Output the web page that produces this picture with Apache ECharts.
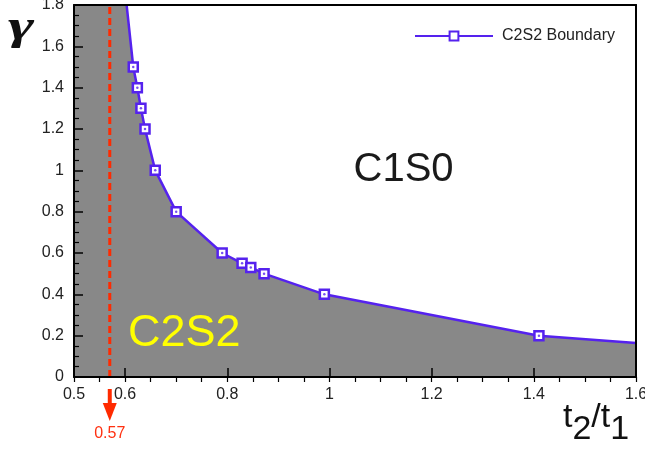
<!DOCTYPE html>
<html>
<head>
<meta charset="utf-8">
<script src="https://cdn.jsdelivr.net/npm/echarts@6/dist/echarts.min.js"></script>
<style>
  html, body { margin: 0; padding: 0; background: #fff; }
  #chart { width: 645px; height: 450px; }
</style>
</head>
<body>
<div id="chart"></div>
<script>
// ---- data ----
const boundaryX = [0.616, 0.624, 0.631, 0.639, 0.659, 0.700, 0.790, 0.829, 0.846, 0.872, 0.990, 1.410];
const boundaryY = [1.50, 1.40, 1.30, 1.20, 1.00, 0.80, 0.60, 0.55, 0.53, 0.50, 0.40, 0.20];
const lineStart = [0.603, 1.8];
const lineEnd = [1.6, 0.165];
const criticalX = 0.57;
const xLabelValues = [0.5, 0.6, 0.8, 1, 1.2, 1.4, 1.6];
const xMajorTicks = [0.6, 0.8, 1, 1.2, 1.4, 1.6];
const regionLabels = [
  { text: 'C1S0', x: 1.145, y: 1.0 },
  { text: 'C2S2', x: 0.716, y: 0.21 }
];

const PURPLE = '#5522ee';
const RED = '#ff2a00';

const markerPts = boundaryX.map((x, i) => [x, boundaryY[i]]);
const lineData = [
  { value: lineStart, symbol: 'none' },
  ...markerPts,
  { value: lineEnd, symbol: 'none' }
];
const areaData = [[0.5, 1.8], lineStart, ...markerPts, lineEnd];

const chart = echarts.init(document.getElementById('chart'));

const axisLineStyle = { color: '#000', width: 2 };

chart.setOption({
  animation: false,
  backgroundColor: '#fff',
  grid: { left: 74, right: 9, top: 5, bottom: 73, outerBoundsMode: 'none', containLabel: false },
  legend: {
    data: ['C2S2 Boundary'],
    left: 409, top: 23,
    itemWidth: 78, itemHeight: 11,
    textStyle: { fontSize: 16, color: '#222', fontFamily: 'Liberation Sans', padding: [0, 0, 0, 4] }
  },
  xAxis: [
    {
      type: 'value', min: 0.5, max: 1.6, interval: 0.1, z: 10,
      axisLine: { show: true, onZero: false, lineStyle: axisLineStyle },
      axisTick: { show: true, inside: true, length: 9, customValues: xMajorTicks, lineStyle: { color: '#000', width: 1.5 } },
      axisLabel: { customValues: xLabelValues, fontSize: 16, color: '#222', margin: 10, fontFamily: 'Liberation Sans' },
      splitLine: { show: false }
    },
    {
      type: 'value', min: 0.5, max: 1.6, interval: 0.05, z: 10,
      axisLine: { show: false },
      axisTick: { show: true, inside: true, length: 5, lineStyle: { color: '#000', width: 1.2 } },
      axisLabel: { show: false },
      splitLine: { show: false }
    },
    {
      type: 'value', position: 'top', min: 0.5, max: 1.6, z: 10,
      axisLine: { show: true, onZero: false, lineStyle: axisLineStyle },
      axisTick: { show: false }, axisLabel: { show: false }, splitLine: { show: false }
    }
  ],
  yAxis: [
    {
      type: 'value', min: 0, max: 1.8, interval: 0.2, z: 10,
      axisLine: { show: true, onZero: false, lineStyle: axisLineStyle },
      axisTick: { show: true, inside: true, length: 9, lineStyle: { color: '#000', width: 1.5 } },
      minorTick: { show: true, splitNumber: 4, length: 5, lineStyle: { color: '#000', width: 1.2 } },
      axisLabel: { fontSize: 16, color: '#222', margin: 10, fontFamily: 'Liberation Sans' },
      splitLine: { show: false }
    },
    {
      type: 'value', position: 'right', min: 0, max: 1.8, z: 10,
      axisLine: { show: true, onZero: false, lineStyle: axisLineStyle },
      axisTick: { show: false }, axisLabel: { show: false }, splitLine: { show: false }
    }
  ],
  series: [
    {
      name: 'region', type: 'line', data: areaData, z: 1,
      symbol: 'none', silent: true,
      lineStyle: { width: 0 },
      areaStyle: { color: '#888888', opacity: 1 }
    },
    {
      name: 'critical', type: 'line', z: 3, symbol: 'none',
      data: [[criticalX, 0], [criticalX, 1.8]],
      lineStyle: { color: RED, width: 3, type: [7, 4] }
    },
    {
      name: 'C2S2 Boundary', type: 'line', data: lineData, z: 4,
      symbol: 'rect', symbolSize: 9,
      lineStyle: { color: PURPLE, width: 2.5 },
      itemStyle: { color: '#fff', borderColor: PURPLE, borderWidth: 2.5 }
    },
    {
      name: 'dots', type: 'scatter', data: markerPts, z: 5,
      symbol: 'circle', symbolSize: 2.5, silent: true,
      itemStyle: { color: PURPLE }
    }
  ]
});

const px = (x, y) => chart.convertToPixel({ xAxisIndex: 0, yAxisIndex: 0 }, [x, y]);
const axisBottom = px(0.5, 0)[1];
const cx = px(criticalX, 0)[0];

const graphics = [];
regionLabels.forEach((r, i) => {
  const p = px(r.x, r.y);
  graphics.push({
    type: 'text', x: p[0], y: p[1], z: 20,
    style: {
      text: r.text, align: 'center', verticalAlign: 'middle',
      fontSize: i === 0 ? 40 : 45, fontFamily: 'Liberation Sans',
      fill: i === 0 ? '#1a1a1a' : '#ffff00'
    }
  });
});
// arrow at critical value
graphics.push({
  type: 'rect', z: 20,
  shape: { x: cx - 2, y: axisBottom + 12, width: 4, height: 16 },
  style: { fill: RED }
});
graphics.push({
  type: 'polygon', z: 20,
  shape: { points: [[cx - 7, axisBottom + 26], [cx + 7, axisBottom + 26], [cx, axisBottom + 44]] },
  style: { fill: RED }
});
graphics.push({
  type: 'text', x: cx, y: axisBottom + 57, z: 20,
  style: { text: String(criticalX), align: 'center', verticalAlign: 'middle', fontSize: 16, fontFamily: 'Liberation Sans', fill: '#ff3010' }
});
// axis titles
graphics.push({
  type: 'text', x: 21, y: 28, z: 20, scaleX: 1.5,
  style: { text: 'γ', align: 'center', verticalAlign: 'middle', fontSize: 42, fontStyle: 'italic', fontWeight: 'bold', fontFamily: 'Liberation Serif', fill: '#111' }
});
const tParts = [
  { t: 't', dy: 0 }, { t: '2', dy: 12 }, { t: '/t', dy: 0 }, { t: '1', dy: 12 }
];
let tx = 563;
const tFont = 'normal 34px "Liberation Sans"';
tParts.forEach(part => {
  graphics.push({
    type: 'text', x: tx, y: 435 + part.dy, z: 20,
    style: { text: part.t, align: 'left', verticalAlign: 'bottom', font: tFont, fill: '#111' }
  });
  tx += echarts.format.getTextRect ? echarts.format.getTextRect(part.t, tFont).width : part.t.length * 14;
});
chart.setOption({ graphic: graphics });
</script>
</body>
</html>
